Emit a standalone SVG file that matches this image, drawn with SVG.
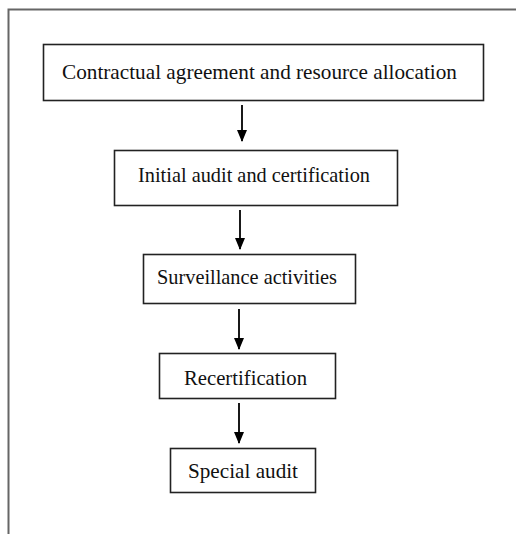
<svg xmlns="http://www.w3.org/2000/svg" width="516" height="534" viewBox="0 0 516 534">
<style>
.box{fill:#fff;stroke:#222;stroke-width:1.6}
.lbl{font-family:"Liberation Serif","Times New Roman",serif;font-size:22px;fill:#111;text-anchor:middle}
.conn{stroke:#000;stroke-width:1.8;fill:none}
</style>
<defs>
<marker id="ah" markerWidth="12" markerHeight="10" refX="11" refY="5" orient="auto" markerUnits="userSpaceOnUse">
<path d="M0,0 L12,5 L0,10 Z" fill="#000"/>
</marker>
</defs>
<rect width="516" height="534" fill="#fff"/>
<g id="frame">
<path d="M8.5,534 V9.5 H516" fill="none" stroke="#666" stroke-width="2"/>
</g>
<g id="connectors">
<line class="conn" x1="242" y1="105" x2="242" y2="141" marker-end="url(#ah)"/>
<line class="conn" x1="240" y1="210" x2="240" y2="249" marker-end="url(#ah)"/>
<line class="conn" x1="239" y1="309" x2="239" y2="349" marker-end="url(#ah)"/>
<line class="conn" x1="239" y1="403" x2="239" y2="443" marker-end="url(#ah)"/>
</g>
<g id="n1">
<rect class="box" x="43.5" y="44.5" width="440" height="56"/>
<text class="lbl" x="259.5" y="79" textLength="395" lengthAdjust="spacingAndGlyphs">Contractual agreement and resource allocation</text>
</g>
<g id="n2">
<rect class="box" x="114.5" y="150.5" width="283" height="55"/>
<text class="lbl" x="254" y="182" textLength="232" lengthAdjust="spacingAndGlyphs">Initial audit and certification</text>
</g>
<g id="n3">
<rect class="box" x="143.5" y="254.5" width="212" height="49"/>
<text class="lbl" x="247" y="284" textLength="180" lengthAdjust="spacingAndGlyphs">Surveillance activities</text>
</g>
<g id="n4">
<rect class="box" x="159.5" y="353.5" width="176" height="45"/>
<text class="lbl" x="245.5" y="385" textLength="123" lengthAdjust="spacingAndGlyphs">Recertification</text>
</g>
<g id="n5">
<rect class="box" x="170.5" y="448.5" width="145" height="44"/>
<text class="lbl" x="243" y="478" textLength="110" lengthAdjust="spacingAndGlyphs">Special audit</text>
</g>
</svg>
